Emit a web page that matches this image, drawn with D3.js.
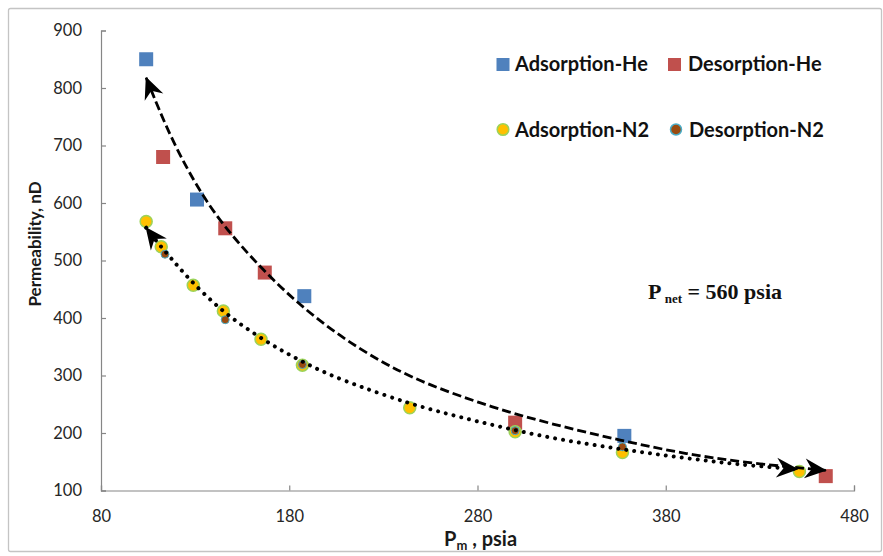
<!DOCTYPE html>
<html><head><meta charset="utf-8">
<script src="https://cdn.jsdelivr.net/npm/d3@7"></script>
<style>body{margin:0;background:#fff}</style>
</head><body><svg id="chart" width="883" height="556"></svg>
<script>
// ---- data ----
const xTicks = [80, 180, 280, 380, 480];
const yTicks = [100, 200, 300, 400, 500, 600, 700, 800, 900];

const adsHeP = [104, 131, 188, 358];
const adsHeK = [850, 606, 438, 195];
const desHeP = [113, 146, 167, 300, 465];
const desHeK = [680, 556, 479, 218, 125];
const adsN2P = [104, 112, 129, 145, 165, 187, 244, 300, 357, 451];
const adsN2K = [568, 524, 457, 412, 363, 318, 244, 202, 166, 133];
const desN2P = [114, 146, 187, 300, 357];
const desN2K = [511, 397, 319, 204, 176];

// hand-drawn trend arrows
const heTrendP = [104, 117, 134, 149, 165, 182, 200, 218, 235, 253, 288, 320, 356, 391, 426, 465];
const heTrendK = [818, 712, 610, 545, 487, 433, 385, 345, 313, 285, 244, 215, 187, 163, 147, 135];
const n2TrendP = [104, 110, 117, 126, 140, 151, 163, 175, 187, 200, 218, 244, 262, 280, 301, 320, 338, 356, 373, 391, 409, 426, 450];
const n2TrendK = [557, 531, 505, 470, 425, 396, 369, 345, 324, 303, 280, 251, 235, 220, 204, 191, 181, 172, 164, 156, 149, 143, 137];

const legendLabels = ["Adsorption-He", "Desorption-He", "Adsorption-N2", "Desorption-N2"];
const xTitle = ["P", "m", " , psia"];
const yTitle = "Permeability, nD";
const noteText = ["P", " net", " = 560 psia"];

// ---- drawing ----
const svg = d3.select("#chart");
svg.append("rect").attr("width", 883).attr("height", 556).attr("fill", "#fff");
svg.append("rect").attr("x", 8.5).attr("y", 8.5).attr("width", 873).attr("height", 543)
  .attr("rx", 2).attr("fill", "none").attr("stroke", "#c4c4c4").attr("stroke-width", 1.3);

const x = d3.scaleLinear().domain([80, 480]).range([101, 854]);
const y = d3.scaleLinear().domain([100, 900]).range([490.5, 30.5]);

const axisColor = "#868686";
const gx = svg.append("g").attr("transform", `translate(0,${y(100)})`)
  .call(d3.axisBottom(x).tickValues(xTicks).tickSize(-5).tickPadding(19.5).tickFormat(d3.format("d")));
const gy = svg.append("g").attr("transform", `translate(${x(80)},0)`)
  .call(d3.axisLeft(y).tickValues(yTicks).tickSize(-5).tickPadding(19).tickFormat(d3.format("d")));
[gx, gy].forEach(g => {
  g.select(".domain").attr("stroke", axisColor).attr("stroke-width", 1.2);
  g.selectAll(".tick line").attr("stroke", axisColor).attr("stroke-width", 1.2);
  g.selectAll(".tick text").attr("fill", "#262626")
    .style("font-family", "Lato, 'Open Sans', sans-serif").style("font-size", "16.5px");
});

// axis titles
const xt = svg.append("text").attr("x", 444).attr("y", 546)
  .style("font-family", "Lato, sans-serif").style("font-weight", "bold").style("font-size", "20px").attr("fill", "#1a1a1a");
xt.append("tspan").text(xTitle[0]);
xt.append("tspan").attr("dy", 4).style("font-size", "13px").text(xTitle[1]);
xt.append("tspan").attr("dy", -4).text(xTitle[2]);

svg.append("text").attr("transform", "translate(35,244) rotate(-90)")
  .attr("text-anchor", "middle").attr("dy", "0.35em")
  .style("font-family", "Lato, sans-serif").style("font-weight", "bold").style("font-size", "17px")
  .attr("fill", "#1a1a1a").text(yTitle);

// markers
const zip = (a, b) => a.map((v, i) => [v, b[i]]);
const sq = 14;
svg.append("g").selectAll("rect").data(zip(adsHeP, adsHeK)).join("rect")
  .attr("x", d => x(d[0]) - sq / 2).attr("y", d => y(d[1]) - sq / 2)
  .attr("width", sq).attr("height", sq).attr("fill", "#4F81BD");
svg.append("g").selectAll("rect").data(zip(desHeP, desHeK)).join("rect")
  .attr("x", d => x(d[0]) - sq / 2).attr("y", d => y(d[1]) - sq / 2)
  .attr("width", sq).attr("height", sq).attr("fill", "#C0504D");
svg.append("g").selectAll("circle").data(zip(adsN2P, adsN2K)).join("circle")
  .attr("cx", d => x(d[0])).attr("cy", d => y(d[1])).attr("r", 6)
  .attr("fill", "#FFC000").attr("stroke", "#9BD35A").attr("stroke-width", 1.5);
svg.append("g").selectAll("circle").data(zip(desN2P, desN2K)).join("circle")
  .attr("cx", d => x(d[0])).attr("cy", d => y(d[1])).attr("r", 4)
  .attr("fill", "#9A4B10").attr("stroke", "#4BACC6").attr("stroke-width", 1);

// arrowhead
const defs = svg.append("defs");
defs.append("marker").attr("id", "stealth").attr("markerUnits", "userSpaceOnUse")
  .attr("viewBox", "-24 -12 25 24").attr("refX", 0).attr("refY", 0)
  .attr("markerWidth", 25).attr("markerHeight", 24).attr("orient", "auto-start-reverse")
  .append("path").attr("d", "M1,0 L-21,-10 L-14,0 L-21,10 Z").attr("fill", "#000");

const line = d3.line().x(d => x(d[0])).y(d => y(d[1])).curve(d3.curveBasis);
svg.append("path").datum(zip(heTrendP, heTrendK)).attr("d", line)
  .attr("fill", "none").attr("stroke", "#000").attr("stroke-width", 2.8)
  .attr("stroke-dasharray", "9 4").attr("marker-start", "url(#stealth)").attr("marker-end", "url(#stealth)");
svg.append("path").datum(zip(n2TrendP, n2TrendK)).attr("d", line)
  .attr("fill", "none").attr("stroke", "#000").attr("stroke-width", 4)
  .attr("stroke-linecap", "round").attr("stroke-dasharray", "0.01 8")
  .attr("marker-start", "url(#stealth)").attr("marker-end", "url(#stealth)");

// legend
const legend = [
  {lx: 503, ly: 64.5, tx: 515, ty: 71, type: "sq", fill: "#4F81BD"},
  {lx: 674.5, ly: 64.5, tx: 688, ty: 71, type: "sq", fill: "#C0504D"},
  {lx: 503, ly: 129.5, tx: 515, ty: 137, type: "c1"},
  {lx: 676, ly: 129.5, tx: 689, ty: 137, type: "c2"}
];
const lg = svg.append("g");
legend.forEach((L, i) => {
  if (L.type === "sq") {
    lg.append("rect").attr("x", L.lx - 6.5).attr("y", L.ly - 6.5).attr("width", 13).attr("height", 13).attr("fill", L.fill);
  } else if (L.type === "c1") {
    lg.append("circle").attr("cx", L.lx).attr("cy", L.ly).attr("r", 5.8)
      .attr("fill", "#FFC000").attr("stroke", "#9BD35A").attr("stroke-width", 1.5);
  } else {
    lg.append("circle").attr("cx", L.lx).attr("cy", L.ly).attr("r", 5.5)
      .attr("fill", "#9A4B10").attr("stroke", "#4BACC6").attr("stroke-width", 1.5);
  }
  lg.append("text").attr("x", L.tx).attr("y", L.ty)
    .style("font-family", "Lato, sans-serif").style("font-weight", "bold").style("font-size", "20px")
    .attr("fill", "#111").text(legendLabels[i]);
});

// annotation
const nt = svg.append("text").attr("x", 648).attr("y", 299)
  .style("font-family", "'Liberation Serif', 'Times New Roman', serif").style("font-weight", "bold")
  .style("font-size", "22px").attr("fill", "#111");
nt.append("tspan").text(noteText[0]);
nt.append("tspan").attr("dy", 4).style("font-size", "13px").text(noteText[1]);
nt.append("tspan").attr("dy", -4).text(noteText[2]);
</script>
</body></html>
